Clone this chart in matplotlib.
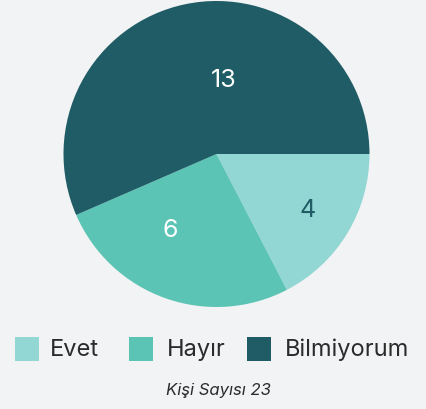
import numpy as np
import matplotlib.pyplot as plt
from matplotlib.patches import Rectangle

labels = ['Evet', 'Hayır', 'Bilmiyorum']
counts = [4, 6, 13]
colors = ['#93d7d4', '#5cc4b5', '#1f5c66']
value_colors = ['#1f5c66', 'white', 'white']
# where each count sits inside its wedge (radius fraction, angle offset in degrees)
value_pos = [(0.70, 0), (0.58, -12), (0.49, -17)]

bg = '#f2f3f5'
font = 'Inter'

fig = plt.figure(figsize=(4.27, 4.10), dpi=100)
fig.patch.set_facecolor(bg)
ax = fig.add_axes([63.5 / 427, 102 / 410, 306 / 427, 306 / 410])
ax.set_facecolor(bg)

wedges, _ = ax.pie(counts, colors=colors, startangle=0, counterclock=False,
                   radius=1, wedgeprops=dict(linewidth=0))
ax.set_xlim(-1, 1)
ax.set_ylim(-1, 1)
ax.set_aspect('equal')
ax.axis('off')

for w, n, c, (r, off) in zip(wedges, counts, value_colors, value_pos):
    mid = np.deg2rad((w.theta1 + w.theta2) / 2 + off)
    ax.text(r * np.cos(mid), r * np.sin(mid), str(n), color=c, fontsize=18,
            family=font, ha='center', va='center')

# legend row
sq_x = [15, 129, 247]
txt_x = [50, 167, 285]
for x0, tx, lab, col in zip(sq_x, txt_x, labels, colors):
    fig.patches.append(Rectangle((x0 / 427, (410 - 362) / 410), 24 / 427, 24 / 410,
                                 transform=fig.transFigure, color=col, linewidth=0))
    fig.text(tx / 427, (410 - 350) / 410, lab, fontsize=17, family=font,
             color='#2b2b2b', ha='left', va='center')

fig.text(218 / 427, (410 - 391) / 410, 'Kişi Sayısı %d' % sum(counts), fontsize=12,
         family=font, style='italic', color='#2b2b2b', ha='center', va='center')

fig.savefig('out.png', dpi=100, facecolor=bg)
